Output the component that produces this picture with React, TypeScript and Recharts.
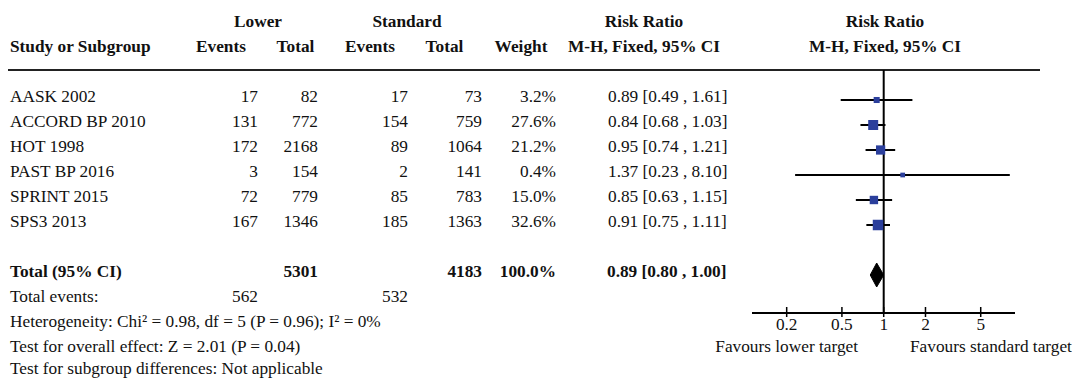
import React from "react";
import {
  ComposedChart,
  XAxis,
  YAxis,
  Scatter,
  Area,
  ReferenceLine,
} from "recharts";

const studies = ["AASK 2002", "ACCORD BP 2010", "HOT 1998", "PAST BP 2016", "SPRINT 2015", "SPS3 2013"];
const lowerEvents = [17, 131, 172, 3, 72, 167];
const lowerTotal = [82, 772, 2168, 154, 779, 1346];
const standardEvents = [17, 154, 89, 2, 85, 185];
const standardTotal = [73, 759, 1064, 141, 783, 1363];
const weights = [3.2, 27.6, 21.2, 0.4, 15.0, 32.6];
const riskRatio = [0.89, 0.84, 0.95, 1.37, 0.85, 0.91];
const ciLow = [0.49, 0.68, 0.74, 0.23, 0.63, 0.75];
const ciHigh = [1.61, 1.03, 1.21, 8.1, 1.15, 1.11];

const totalLowerEvents = 562;
const totalStandardEvents = 532;
const totalLower = 5301;
const totalStandard = 4183;
const totalWeight = 100.0;
const totalRR = 0.89;
const totalLow = 0.8;
const totalHigh = 1.0;

const axisTicks = [0.2, 0.5, 1, 2, 5];
const footnotes = [
  "Heterogeneity: Chi\u00b2 = 0.98, df = 5 (P = 0.96); I\u00b2 = 0%",
  "Test for overall effect: Z = 2.01 (P = 0.04)",
  "Test for subgroup differences: Not applicable",
];

const FONT = "'Liberation Serif', 'Times New Roman', serif";
const FS = 17.3;
const BLUE = "#2b3f9c";
const TOTAL_ROW = 7;
const DIAMOND_HALF = 0.48;

const squares = studies.map((s, i) => ({ x: riskRatio[i], y: i, w: weights[i] }));
const diamond = [
  { x: totalLow, band: [TOTAL_ROW, TOTAL_ROW] },
  { x: totalRR, band: [TOTAL_ROW - DIAMOND_HALF, TOTAL_ROW + DIAMOND_HALF] },
  { x: totalHigh, band: [TOTAL_ROW, TOTAL_ROW] },
];

const fmt = (v: number) => v.toFixed(2);
const ciText = (r: number, l: number, h: number) => `${fmt(r)} [${fmt(l)} , ${fmt(h)}]`;

// box size grows with study weight
const Square = (props: any) => {
  const { cx, cy, payload } = props;
  const s = 4 + 6.5 * Math.sqrt(payload.w / 32.6);
  return <rect x={cx - s / 2} y={cy - s / 2} width={s} height={s} fill={BLUE} />;
};

const AxisTick = (props: any) => {
  const { x, y, payload } = props;
  return (
    <g>
      <line x1={x} x2={x} y1={y - 6} y2={y + 4} stroke="#000" strokeWidth={1.5} />
      <text x={x} y={y + 17} textAnchor="middle" fontFamily={FONT} fontSize={FS} fill="#111">
        {payload.value}
      </text>
    </g>
  );
};

function T(p: { x: number; y: number; anchor?: "start" | "middle" | "end"; bold?: boolean; children: React.ReactNode }) {
  return (
    <text
      x={p.x}
      y={p.y}
      textAnchor={p.anchor || "start"}
      fontWeight={p.bold ? "bold" : "normal"}
      fontFamily={FONT}
      fontSize={FS}
      fill="#111"
    >
      {p.children}
    </text>
  );
}

const rowY = (i: number) => 101.7 + 25 * i;

export default function App() {
  return (
    <div style={{ position: "relative", width: 1072, height: 378, background: "#fff", overflow: "hidden" }}>
      <style>{"body{margin:0}"}</style>
      <div style={{ position: "absolute", left: 8, top: 69, width: 1032, height: 2, background: "#222" }} />
      <div style={{ position: "absolute", left: 0, top: 0 }}>
        <ComposedChart width={1072} height={378} margin={{ top: 70, left: 752, right: 57, bottom: 35 }}>
          <XAxis
            dataKey="x"
            type="number"
            scale="log"
            domain={[0.1125, 8.83]}
            allowDataOverflow
            ticks={axisTicks}
            interval={0}
            height={30}
            tickSize={0}
            tickMargin={0}
            tickLine={false}
            axisLine={{ stroke: "#000", strokeWidth: 2 }}
            tick={<AxisTick />}
          />
          <YAxis dataKey="y" type="number" domain={[-1.2, 8.52]} reversed allowDataOverflow hide />
          <ReferenceLine x={1} stroke="#000" strokeWidth={2} />
          {studies.map((s, i) => (
            <ReferenceLine
              key={s}
              segment={[
                { x: ciLow[i], y: i },
                { x: ciHigh[i], y: i },
              ]}
              stroke="#000"
              strokeWidth={2}
            />
          ))}
          <Area
            data={diamond}
            dataKey="band"
            type="linear"
            stroke="#000"
            strokeWidth={1}
            fill="#000"
            fillOpacity={1}
            isAnimationActive={false}
          />
          <Scatter data={squares} dataKey="y" shape={<Square />} isAnimationActive={false} />
        </ComposedChart>
      </div>
      <svg width={1072} height={378} style={{ position: "absolute", left: 0, top: 0, pointerEvents: "none" }}>
        <T x={258} y={26.7} anchor="middle" bold>Lower</T>
        <T x={407} y={26.7} anchor="middle" bold>Standard</T>
        <T x={644} y={26.7} anchor="middle" bold>Risk Ratio</T>
        <T x={885} y={26.7} anchor="middle" bold>Risk Ratio</T>
        <T x={10} y={51.7} bold>Study or Subgroup</T>
        <T x={221} y={51.7} anchor="middle" bold>Events</T>
        <T x={295.5} y={51.7} anchor="middle" bold>Total</T>
        <T x={370} y={51.7} anchor="middle" bold>Events</T>
        <T x={444.5} y={51.7} anchor="middle" bold>Total</T>
        <T x={521} y={51.7} anchor="middle" bold>Weight</T>
        <T x={644} y={51.7} anchor="middle" bold>M-H, Fixed, 95% CI</T>
        <T x={885} y={51.7} anchor="middle" bold>M-H, Fixed, 95% CI</T>

        {studies.map((s, i) => (
          <g key={s}>
            <T x={10} y={rowY(i)}>{s}</T>
            <T x={258} y={rowY(i)} anchor="end">{lowerEvents[i]}</T>
            <T x={318} y={rowY(i)} anchor="end">{lowerTotal[i]}</T>
            <T x={408} y={rowY(i)} anchor="end">{standardEvents[i]}</T>
            <T x={482} y={rowY(i)} anchor="end">{standardTotal[i]}</T>
            <T x={556} y={rowY(i)} anchor="end">{weights[i].toFixed(1) + "%"}</T>
            <T x={608} y={rowY(i)}>{ciText(riskRatio[i], ciLow[i], ciHigh[i])}</T>
          </g>
        ))}

        <T x={10} y={rowY(7)} bold>Total (95% CI)</T>
        <T x={318} y={rowY(7)} anchor="end" bold>{totalLower}</T>
        <T x={482} y={rowY(7)} anchor="end" bold>{totalStandard}</T>
        <T x={556} y={rowY(7)} anchor="end" bold>{totalWeight.toFixed(1) + "%"}</T>
        <T x={607} y={rowY(7)} bold>{ciText(totalRR, totalLow, totalHigh)}</T>

        <T x={10} y={rowY(8)}>Total events:</T>
        <T x={258} y={rowY(8)} anchor="end">{totalLowerEvents}</T>
        <T x={408} y={rowY(8)} anchor="end">{totalStandardEvents}</T>
        {footnotes.map((f, i) => (
          <T key={f} x={10} y={Math.min(rowY(9 + i), 373.5)}>{f}</T>
        ))}

        <T x={858} y={352} anchor="end">Favours lower target</T>
        <T x={910} y={352}>Favours standard target</T>
      </svg>
    </div>
  );
}
